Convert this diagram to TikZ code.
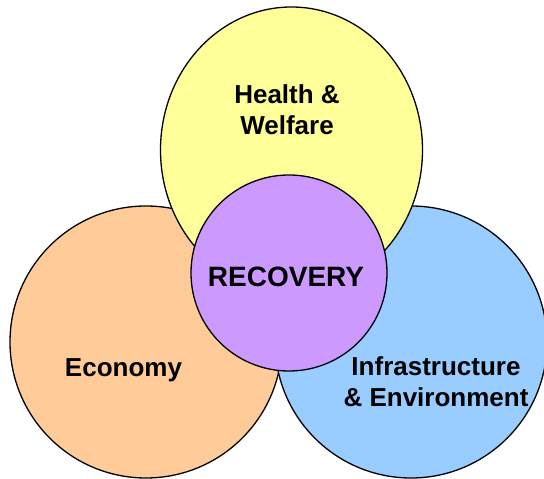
\documentclass[tikz,border=0pt]{standalone}
\usepackage{fontspec}
\setmainfont{Liberation Sans}
\usetikzlibrary{shapes.geometric}
\definecolor{cyellow}{HTML}{FFFF99}
\definecolor{corange}{HTML}{FFCC99}
\definecolor{cblue}{HTML}{99CCFF}
\definecolor{cpurple}{HTML}{CC99FF}
\tikzset{
  blob/.style={draw=black, line width=1.3pt, inner sep=0pt},
  lbl/.style={font=\fontsize{26pt}{31.5pt}\selectfont\bfseries, align=center, inner sep=0pt, anchor=base},
}
\begin{document}
\begin{tikzpicture}[x=1pt,y=1pt]
\useasboundingbox (0,0) rectangle (544,479);
\node[blob, circle, fill=corange, minimum size=272pt] (econ) at (146,137) {};
\node[blob, circle, fill=cblue, minimum size=272pt] (infra) at (411,137) {};
\node[blob, ellipse, fill=cyellow, minimum width=262pt, minimum height=286pt] (health) at (291.5,329) {};
\node[blob, circle, fill=cpurple, minimum size=196pt] (recov) at (289,206) {};
\node[lbl] (thealth) at (287,344) {Health \&\\Welfare};
\node[lbl, font=\fontsize{28pt}{32pt}\selectfont\bfseries] (trecov) at (286,192.3) {RECOVERY};
\node[lbl] (tecon) at (123.5,102.3) {Economy};
\node[lbl] (tinfra) at (436,72.3) {Infrastructure\\\& Environment};
\end{tikzpicture}
\end{document}
